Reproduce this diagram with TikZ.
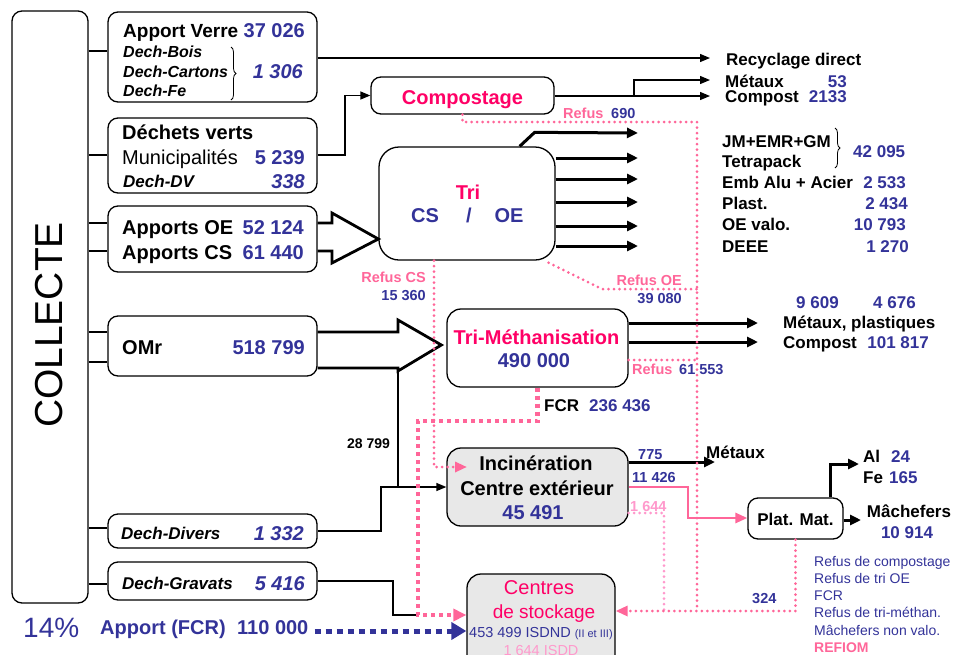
\documentclass[tikz,border=0pt]{standalone}
\usepackage{fontspec}
\setmainfont{Liberation Sans}
\usepackage{tikz}
\usetikzlibrary{arrows.meta,calc,decorations.pathreplacing}
\definecolor{numblue}{RGB}{51,51,153}
\definecolor{titlepink}{RGB}{255,0,102}
\definecolor{refpink}{RGB}{255,102,153}
\definecolor{lightpink}{RGB}{255,153,204}
\definecolor{boxgray}{RGB}{232,232,232}
\newcommand{\fsz}[1]{\fontsize{#1pt}{#1pt}\selectfont}
\tikzstyle{box}=[draw, line width=1.3pt, rounded corners=10pt, fill=white, inner sep=0pt]
\tikzstyle{graybox}=[box, fill=boxgray]
\tikzstyle{tl}=[inner sep=0pt, anchor=base west]
\tikzstyle{tr}=[inner sep=0pt, anchor=base east]
\tikzstyle{tc}=[inner sep=0pt, anchor=base]
\tikzstyle{fb}=[font=\fsz{20}\bfseries]
\tikzstyle{fm}=[font=\fsz{17}\bfseries]
\tikzstyle{fs}=[font=\fsz{14.5}\bfseries]
\tikzstyle{fi}=[font=\fsz{17}\bfseries\itshape]
\tikzstyle{fbi}=[font=\fsz{20}\bfseries\itshape]
\tikzstyle{num}=[text=numblue]
\tikzstyle{conn}=[line width=1.3pt]
\tikzstyle{fat}=[line width=3pt, -{Triangle[length=11pt,width=10pt]}]
\tikzstyle{bigarr}=[line width=2.8pt, line join=miter]
\tikzstyle{refline}=[refpink, line width=3pt, dash pattern=on 0pt off 5.5pt, line cap=round]
\tikzstyle{reftip}=[-{Triangle[length=12pt,width=10pt]}]
\tikzstyle{fcrline}=[refpink, line width=4.5pt, dash pattern=on 4pt off 4pt]
\tikzstyle{fcrblue}=[numblue, line width=5pt, dash pattern=on 6pt off 5pt]
\tikzstyle{pinkline}=[refpink, line width=2.8pt]

\begin{document}
\begin{tikzpicture}[x=1pt, y=-1pt, >={Triangle[length=10pt,width=8pt]}]
	\useasboundingbox (0,0) rectangle (954,654);
	\clip (0,0) rectangle (954,654);
	% boxes
	\node[box, minimum width=76pt, minimum height=592pt] (collecte) at (50,307) {};
	\node[rotate=90, inner sep=0pt, font=\fsz{39}] (tcoll) at (49,325) {COLLECTE};
	\node[box, minimum width=209pt, minimum height=90pt] (verre) at (212.5,57) {};
	\node[box, minimum width=209pt, minimum height=75pt] (dv) at (212.5,155.5) {};
	\node[box, minimum width=209pt, minimum height=66pt] (oecs) at (212.5,239) {};
	\node[box, minimum width=209pt, minimum height=60pt] (omr) at (212.5,346) {};
	\node[box, minimum width=209pt, minimum height=34pt] (divers) at (212.5,531) {};
	\node[box, minimum width=209pt, minimum height=38pt] (gravats) at (212.5,581) {};
	\node[box, minimum width=183pt, minimum height=37pt] (compost) at (462.5,95.5) {};
	\node[box, rounded corners=20pt, minimum width=176pt, minimum height=113pt] (tri) at (467,203.5) {};
	\node[box, rounded corners=14pt, minimum width=181pt, minimum height=78pt] (trimeth) at (537.5,348) {};
	\node[graybox, rounded corners=14pt, minimum width=181pt, minimum height=78pt] (incin) at (537.5,487) {};
	\node[box, minimum width=95pt, minimum height=41pt] (plat) at (795.5,518.5) {};
	\node[graybox, rounded corners=14pt, minimum width=148pt, minimum height=106pt] (centres) at (541,627) {};

	% collecte stubs
	\foreach \y/\b in {51/verre,155/dv,223/oecs,251/oecs,332/omr,362/omr,528/divers,584/gravats}
		\draw[conn] (collecte.east |- 0,\y) -- (\b.west |- 0,\y);

	% left boxes text
	\node[tl, font=\fsz{19}\bfseries] (tverre) at (123,37) {Apport Verre};
	\node[tr, fb, num] (nverre) at (305,37) {37 026};
	\node[tl, font=\fsz{16}\bfseries\itshape] (tbois) at (123,57) {Dech-Bois};
	\node[tl, font=\fsz{16}\bfseries\itshape] (tcart) at (123,77) {Dech-Cartons};
	\node[tl, font=\fsz{16}\bfseries\itshape] (tfe) at (123,96) {Dech-Fe};
	\draw[line width=0.8pt, decorate, decoration={brace, amplitude=5pt}] (231,47) -- (231,100);
	\node[tr, fbi, num] (ndech) at (303,78) {1 306};
	\node[tl, fb] (tdv) at (122,139) {Déchets verts};
	\node[tl, font=\fsz{20}] (tmun) at (122,164) {Municipalités};
	\node[tr, fb, num] (nmun) at (305,164) {5 239};
	\node[tl, fi] (tdechdv) at (123,187) {Dech-DV};
	\node[tr, fbi, num] (ndechdv) at (305,188) {338};
	\node[tl, fb] (toe) at (122,234) {Apports OE};
	\node[tr, fb, num] (noe) at (304,234) {52 124};
	\node[tl, fb] (tcs) at (122,259) {Apports CS};
	\node[tr, fb, num] (ncs) at (304,259) {61 440};
	\node[tl, fb] (tomr) at (122,354) {OMr};
	\node[tr, fb, num] (nomr) at (305,354) {518 799};
	\node[tl, fi] (tdiv) at (121,539) {Dech-Divers};
	\node[tr, fbi, num] (ndiv) at (304,540) {1 332};
	\node[tl, fi] (tgrav) at (122,589) {Dech-Gravats};
	\node[tr, fbi, num] (ngrav) at (305,590) {5 416};
	\node[tl, font=\fsz{28}, text=numblue] (tpct) at (23,637) {14\%};
	\node[tl, fb, num] (tfcr) at (100,634) {Apport (FCR)};
	\node[tl, fb, num] (nfcr) at (237,634) {110 000};

	% process boxes text
	\node[tc, fb, text=titlepink] (tcomp) at (462.5,104) {Compostage};
	\node[tc, fb, text=titlepink] (ttri) at (468,199) {Tri};
	\node[tc, fb, num] (tcs2) at (425,222) {CS};
	\node[tc, fb, num] (tslash) at (469,222) {/};
	\node[tc, fb, num] (toe2) at (509,222) {OE};
	\node[tc, fb, text=titlepink] (ttm) at (536.5,344) {Tri-Méthanisation};
	\node[tc, fb, num] (ntm) at (534,367) {490 000};
	\node[tc, fb] (tinc1) at (536,470) {Incinération};
	\node[tc, fb] (tinc2) at (537,495) {Centre extérieur};
	\node[tc, fb, num] (ninc) at (533,519) {45 491};
	\node[tc, fm] (tplat) at (795.5,525) {Plat. Mat.};
	\node[tc, font=\fsz{20}, text=titlepink] (tcen1) at (539,594) {Centres};
	\node[tc, font=\fsz{19}, text=titlepink] (tcen2) at (544,618) {de stockage};
	\node[tl, font=\fsz{14.5}, text=numblue] (tcen3) at (469,637) {453 499 ISDND {\fsz{11}(II et III)}};
	\node[tc, font=\fsz{14.5}, text=lightpink] (tcen4) at (541,655) {1 644 ISDD};

	% outputs text
	\node[tl, fm] (trecy) at (726,65) {Recyclage direct};
	\node[tl, fm] (tmet1) at (725,87) {Métaux};
	\node[tr, fm, num] (nmet1) at (847,87) {53};
	\node[tl, fm] (tcomp2) at (725,102) {Compost};
	\node[tr, fm, num] (ncomp2) at (847,102) {2133};
	\node[tl, fs, text=refpink] (tref1) at (563,118) {Refus};
	\node[tl, fs, num] (nref1) at (611,118) {690};
	\node[tl, fm] (tjm) at (722,147) {JM+EMR+GM};
	\node[tl, fm] (ttetra) at (722,167) {Tetrapack};
	\draw[line width=0.8pt, decorate, decoration={brace, amplitude=5pt}] (835,128) -- (835,168);
	\node[tl, fm, num] (njm) at (853,157) {42 095};
	\node[tl, fm] (temb) at (722,188) {Emb Alu + Acier};
	\node[tr, fm, num] (nemb) at (906,188) {2 533};
	\node[tl, fm] (tplast) at (722,209) {Plast.};
	\node[tr, fm, num] (nplast) at (908,209) {2 434};
	\node[tl, fm] (toev) at (722,230) {OE valo.};
	\node[tr, fm, num] (noev) at (906,230) {10 793};
	\node[tl, fm] (tdeee) at (722,252) {DEEE};
	\node[tr, fm, num] (ndeee) at (909,252) {1 270};
	\node[tr, fs, text=refpink] (trefoe) at (682,285) {Refus OE};
	\node[tr, fs, num] (nrefoe) at (682,303) {39 080};
	\node[tr, fs, text=refpink] (trefcs) at (426,282) {Refus CS};
	\node[tr, fs, num] (nrefcs) at (426,300) {15 360};
	\node[tl, fm, num] (nmp1) at (796,308) {9 609};
	\node[tl, fm, num] (nmp2) at (873,308) {4 676};
	\node[tl, fm] (tmp) at (783,328) {Métaux, plastiques};
	\node[tl, fm] (tcomp3) at (783,348) {Compost};
	\node[tr, fm, num] (ncomp3) at (929,348) {101 817};
	\node[tl, fs, text=refpink] (treftm) at (632,374) {Refus};
	\node[tl, fs, num] (nreftm) at (679,374) {61 553};
	\node[tl, fm] (tfcr2) at (544,411) {FCR};
	\node[tl, fm, num] (nfcr2) at (589,411) {236 436};
	\node[tl, font=\fsz{14}\bfseries] (n28) at (347,448) {28 799};
	\node[tl, fs, num] (n775) at (638,459) {775};
	\node[tl, fm] (tmet2) at (706,458) {Métaux};
	\node[tl, fs, num] (n11) at (632,482) {11 426};
	\node[tl, fs, text=lightpink] (n1644) at (630,511) {1 644};
	\node[tl, fm] (tal) at (863,462) {Al};
	\node[tl, fm, num] (nal) at (891,462) {24};
	\node[tl, fm] (tfe2) at (863,483) {Fe};
	\node[tl, fm, num] (nfe) at (889,483) {165};
	\node[tc, fm] (tmach) at (909,517) {Mâchefers};
	\node[tc, fm, num] (nmach) at (907,538) {10 914};
	\node[tl, fs, num] (n324) at (752,603) {324};
	\foreach \t [count=\i] in {Refus de compostage, Refus de tri OE, FCR, Refus de tri-méthan., Mâchefers non valo.}
		\node[tl, font=\fsz{14}, text=numblue] (leg\i) at (814,548.7+17.3*\i) {\t};
	\node[tl, font=\fsz{14}\bfseries, text=refpink] (leg6) at (814,652.5) {REFIOM};

	% flows
	\draw[conn,->] (verre.east |- 0,58) -- (710,58);
	\draw[conn,->] (dv.east |- 0,155) -- (345,155) |- (compost.west);
	\draw[conn,->] (compost.east |- 0,96) -- (710,96);
	\draw[conn,->] (634,96) |- (710,80);
	\draw[bigarr] (oecs.east |- 0,223) -- (332,223) -- (332,213) -- (tri.west |- 0,239) -- (332,263) -- (332,251) -- (oecs.east |- 0,251);
	\draw[fat] ($(tri.north east)+(-36,0)$) -- ++(15,-14) -- (638,133);
	\foreach \y in {158,179,202,226,246}
		\draw[fat] (tri.east |- 0,\y) -- (638,\y);
	\draw[bigarr] (omr.east |- 0,332) -- (398,332) -- (398,320) -- ($(trimeth.west |- 0,345)+(-5,0)$) -- (398,371) -- (398,368) -- (omr.east |- 0,368);
	\coordinate (junc) at (398,487);
	\draw[conn] (398,371) -- (junc);
	\draw[conn,->] (divers.east |- 0,531) -- (381,531) -- (381,487) -- (incin.west |- 0,487);
	\coordinate (fcrc) at (418,615);
	\draw[conn] (gravats.east |- 0,581) -- (393,581) |- (fcrc);
	\draw[fat] (trimeth.east |- 0,323) -- (758,323);
	\draw[fat] (trimeth.east |- 0,342) -- (758,342);
	\draw[fat] (incin.east |- 0,462) -- (715,462);
	\draw[pinkline, -{Triangle[length=12pt,width=10pt]}] (incin.east |- 0,487) -- (688,487) -- (688,518) -- (plat.west |- 0,518);
	\draw[fat] (plat.north -| 830,0) -- (830,464) -- (859,464);
	\draw[fat] (plat.east |- 0,520) -- (861,520);

	% refus
	\draw[refline] (compost.south) -- (462.5,122) -- (697,122) -- (697,611);
	\draw[refline] ($(tri.south east)+(-7,2)$) -- (602,289) -- (697,289);
	\draw[refline] (trimeth.east |- 0,360) -- (697,360);
	\draw[refline, lightpink] (incin.east |- 0,513) -- (664,513) -- (664,611);
	\draw[refline, reftip] (plat.south) -- (795.5,611) -- (centres.east |- 0,611);
	\draw[refline, reftip] (tri.south -| 434,0) -- (434,467) -- (467,467);
	\draw[fcrline, -{Triangle[length=13pt,width=12pt]}] (trimeth.south) -- (537.5,421) -- (418,421) -- (fcrc) -- (centres.west |- fcrc);
	\draw[fcrblue, -{Triangle[length=15pt,width=17pt]}] ($(nfcr.east |- 0,631)+(6,0)$) -- (centres.west |- 0,631);
\end{tikzpicture}
\end{document}
